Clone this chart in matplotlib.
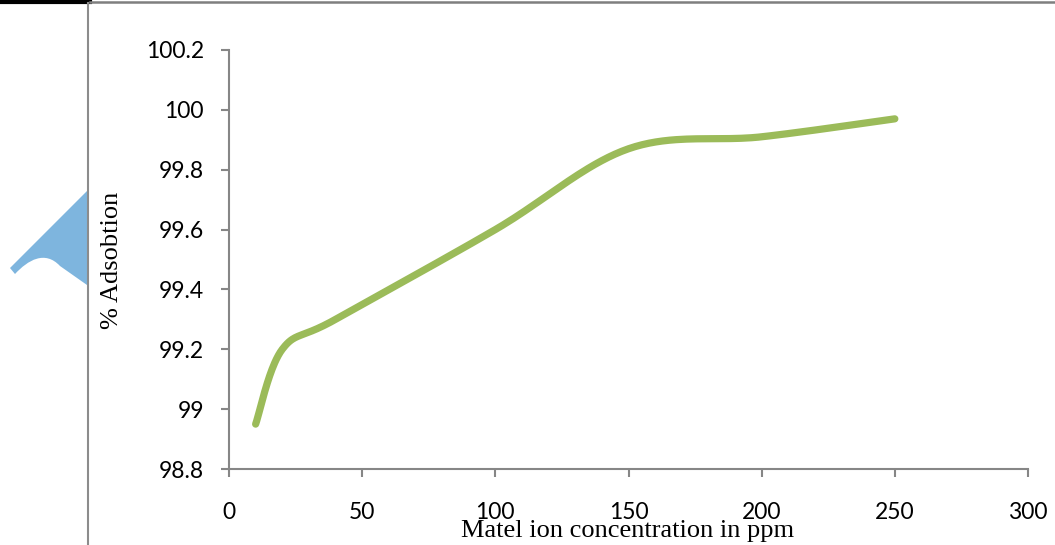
import numpy as np
import matplotlib.pyplot as plt
from matplotlib.patches import PathPatch
from matplotlib.path import Path
from matplotlib.lines import Line2D

# data
conc = [10, 20, 40, 100, 150, 200, 250]
adsorption = [98.95, 99.20, 99.30, 99.60, 99.87, 99.91, 99.97]
x_ticks = [0, 50, 100, 150, 200, 250, 300]
y_ticks = [98.8, 99, 99.2, 99.4, 99.6, 99.8, 100, 100.2]
y_ticklabels = ['98.8', '99', '99.2', '99.4', '99.6', '99.8', '100', '100.2']


def smooth(xs, ys, n=40):
    # Excel-like smoothed line: Catmull-Rom via cubic Bezier segments
    xs = np.asarray(xs, float)
    ys = np.asarray(ys, float)
    px, py = [], []
    for i in range(len(xs) - 1):
        i0 = max(i - 1, 0)
        i3 = min(i + 2, len(xs) - 1)
        p0 = np.array([xs[i], ys[i]])
        p1 = np.array([xs[i + 1], ys[i + 1]])
        c0 = p0 + (p1 - np.array([xs[i0], ys[i0]])) / 6
        c1 = p1 - (np.array([xs[i3], ys[i3]]) - p0) / 6
        t = np.linspace(0, 1, n)[:, None]
        seg = ((1 - t) ** 3 * p0 + 3 * (1 - t) ** 2 * t * c0
               + 3 * (1 - t) * t ** 2 * c1 + t ** 3 * p1)
        px.extend(seg[:, 0])
        py.extend(seg[:, 1])
    return px, py


fig = plt.figure(figsize=(10.55, 5.45), dpi=100)
ax = fig.add_axes([229 / 1055, 1 - 469 / 545, (1028 - 229) / 1055, (469 - 50) / 545])

sx, sy = smooth(conc, adsorption)
ax.plot(sx, sy, color='#9BBB59', lw=5.2, solid_capstyle='round')

ax.set_xlim(0, 300)
ax.set_ylim(98.8, 100.2)
ax.set_xticks(x_ticks)
ax.set_yticks(y_ticks)
ax.set_yticklabels(y_ticklabels)
for s in ['top', 'right']:
    ax.spines[s].set_visible(False)
for s in ['left', 'bottom']:
    ax.spines[s].set_color('#868686')
    ax.spines[s].set_linewidth(1.5)
ax.tick_params(colors='#868686', length=6, width=1.5, labelcolor='black',
               labelsize=16.5)
ax.tick_params(axis='x', pad=18)
ax.tick_params(axis='y', pad=12)
for lab in ax.get_xticklabels() + ax.get_yticklabels():
    lab.set_family('Lato')

fig.text(628 / 1055, 1 - 537 / 545, 'Matel ion concentration in ppm',
         family='Liberation Serif', fontsize=19, ha='center', va='baseline')
fig.text(112 / 1055, 1 - 260 / 545, '% Adsobtion', family='Liberation Serif',
         fontsize=19, rotation=90, ha='center', va='center')

# page decorations around the chart
W, H = 1055, 545
fig.add_artist(Line2D([0, 90 / W], [1 - 1.5 / H, 1 - 1.5 / H], color='black', lw=3))
fig.add_artist(Line2D([90 / W, 1], [1 - 2 / H, 1 - 2 / H], color='#7f7f7f', lw=1.8))
fig.add_artist(Line2D([88 / W, 88 / W], [0, 1 - 3 / H], color='#8c8c8c', lw=1.5))

pts = [(87, 191), (10, 268), (15, 274),
       (28, 260), (45, 250), (60, 266),
       (87, 285), (87, 191)]
codes = [Path.MOVETO, Path.LINETO, Path.LINETO,
         Path.CURVE4, Path.CURVE4, Path.CURVE4,
         Path.LINETO, Path.CLOSEPOLY]
verts = [(x / W, 1 - y / H) for x, y in pts]
fig.add_artist(PathPatch(Path(verts, codes), facecolor='#7EB5DE',
                         edgecolor='none', transform=fig.transFigure))

fig.savefig('out.png', dpi=100)
